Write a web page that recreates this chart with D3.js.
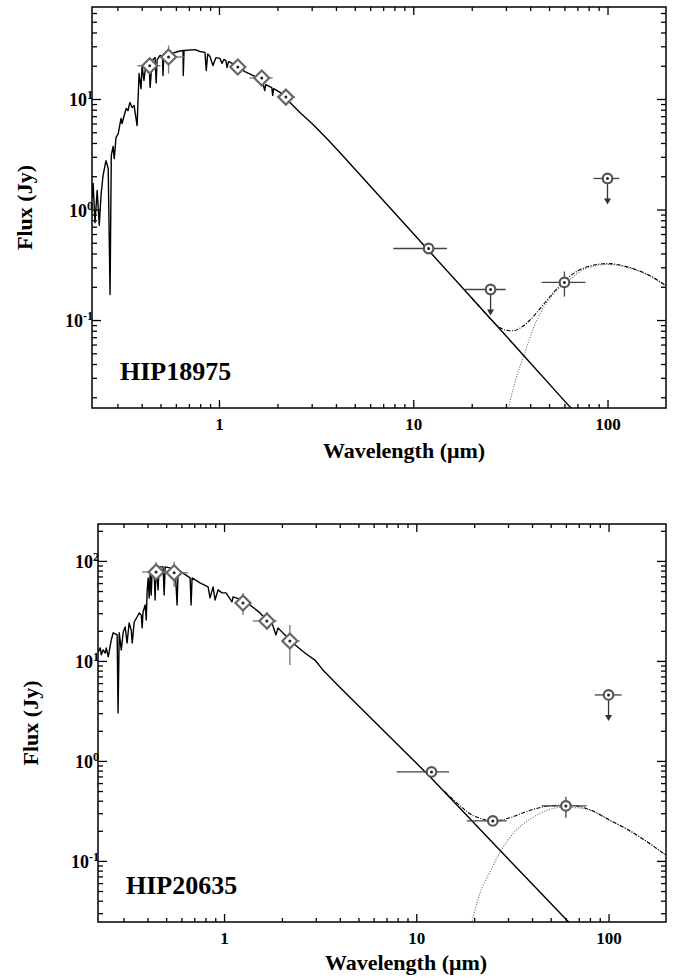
<!DOCTYPE html>
<html>
<head>
<meta charset="utf-8">
<script src="https://cdn.jsdelivr.net/npm/d3@7"></script>
<style>
body { margin: 0; background: #fff; }
svg text, svg tspan { font-family: "Liberation Serif", "Times New Roman", Times, serif; font-weight: bold; fill: #000; }
.xlab text { font-size: 17px; }
</style>
</head>
<body>
<svg width="673" height="977"></svg>
<script>
// ---- HIP18975 (top panel) ----
// stellar model spectrum [wavelength um, flux Jy]
const specA = [[0.222,1.26],[0.225,1.72],[0.230,0.76],[0.236,1.49],[0.242,0.72],[0.247,1.34],[0.253,2.03],
  [0.262,2.77],[0.269,2.35],[0.275,0.17],[0.279,3.08],[0.285,3.72],[0.289,2.89],[0.295,4.48],[0.303,4.87],
  [0.313,6.66],[0.317,6.00],[0.325,7.09],[0.333,8.20],[0.340,7.87],[0.348,9.29],[0.357,8.37],[0.366,8.73],
  [0.370,7.55],[0.379,5.75],[0.383,9.69],[0.388,17.0],[0.397,12.4],[0.402,20.1],[0.411,14.7],[0.421,21.0],
  [0.431,17.4],[0.436,22.3],[0.442,12.7],[0.453,22.3],[0.469,23.7],[0.475,14.0],[0.480,22.5],[0.497,24.8],
  [0.512,24.5],[0.515,16.3],[0.520,25.2],[0.573,25.8],[0.615,26.9],[0.653,27.5],[0.655,16.3],[0.661,27.5],
  [0.753,28.0],[0.798,26.9],[0.847,26.4],[0.860,18.1],[0.875,25.5],[0.899,24.3],[0.931,20.1],[0.965,23.7],
  [1.012,23.3],[1.036,21.0],[1.060,22.8],[1.086,22.3],[1.099,19.3],[1.12,21.8],[1.21,20.5],[1.36,17.7],
  [1.53,16.0],[1.68,14.1],[1.72,11.9],[1.74,13.5],[1.87,12.7],[1.89,10.8],[1.91,12.4],[2.06,11.5],
  [2.32,9.29],[2.61,7.55],[3.04,5.9],[3.63,4.3],[4.19,3.28],[12.0,0.426],[30,0.072],[61,0.018],[100,0.007]];
// star + dust total
const totalA = [[20,0.158],[22.5,0.125],[24.7,0.104],[27.5,0.087],[30,0.081],[32.5,0.080],[36,0.086],
  [39.7,0.099],[48.6,0.150],[58.7,0.218],[74.3,0.292],[100,0.324],[129.8,0.299],[164.4,0.253],[200,0.205]];
// dust blackbody
const dustA = [[29,0.0095],[31,0.0162],[33.5,0.028],[36.6,0.0449],[43.2,0.099],[54.7,0.185],[60.8,0.215],
  [75,0.285],[100,0.318],[130,0.295],[165,0.250],[200,0.202]];
// optical/near-IR photometry [lam, F, lamLo, lamHi, FLo, FHi]
const optA = [[0.44,20.0,0.38,0.50,17.0,23.5],[0.55,24.0,0.50,0.66,17.0,30.5],[1.25,19.5,1.17,1.33,16.5,22.5],
  [1.66,15.5,1.44,1.89,13.8,17.4],[2.21,10.4,1.99,2.46,9.8,11.0]];
// IRAS photometry [lam, F, lamLo, lamHi, FLo, FHi, upperLimit]
const irA = [[12,0.444,7.9,14.9,0.444,0.444,0],[25,0.189,18.4,29.9,0.189,0.189,1],
  [60,0.219,45.8,77,0.163,0.275,0],[100,1.91,84.7,115,1.91,1.91,1]];

// ---- HIP20635 (bottom panel) ----
const specB = [[0.2216,12.3],[0.227,13.5],[0.230,11.5],[0.235,12.9],[0.241,12.0],[0.244,13.5],[0.250,11.0],
  [0.259,16.2],[0.265,19.1],[0.278,18.2],[0.281,3.02],[0.285,19.1],[0.292,12.9],[0.299,19.5],[0.306,21.9],
  [0.313,15.1],[0.321,24.0],[0.329,20.4],[0.333,15.1],[0.341,24.5],[0.353,27.5],[0.362,30.2],[0.371,28.8],
  [0.375,21.4],[0.379,30.9],[0.389,36.3],[0.394,25.7],[0.398,49.0],[0.403,67.6],[0.408,42.7],[0.413,77.6],
  [0.418,45.7],[0.423,81.3],[0.433,81.3],[0.438,40.7],[0.443,87.1],[0.454,51.3],[0.459,87.1],[0.482,87.1],
  [0.488,45.7],[0.494,87.1],[0.524,85.1],[0.537,81.3],[0.557,81.3],[0.570,36.3],[0.577,81.3],[0.666,67.6],
  [0.674,36.3],[0.682,67.6],[0.750,60.3],[0.826,55.0],[0.846,42.7],[0.877,55.0],[0.898,40.7],[0.931,51.3],
  [0.976,47.9],[1.024,47.9],[1.100,38.9],[1.114,43.7],[1.240,40.7],[1.365,36.3],[1.538,30.2],[1.653,26.3],
  [1.693,21.4],[1.775,24.0],[1.862,18.2],[1.908,21.4],[2.075,18.2],[2.338,14.5],[2.634,12.0],[2.969,10.2],
  [3.267,8.13],[4.0,5.46],[11.75,0.70],[30,0.105],[62,0.0245],[100,0.0095]];
const totalB = [[14,0.50],[15.5,0.415],[17.2,0.345],[19.7,0.285],[21.4,0.268],[25,0.25],[30.6,0.27],
  [38.9,0.32],[49.4,0.355],[61,0.362],[79.7,0.326],[105,0.247],[124,0.21],[145,0.174],[198,0.115]];
const dustB = [[18.5,0.018],[19.4,0.0245],[21.4,0.047],[24.1,0.077],[27.8,0.13],[33.3,0.205],[38.9,0.26],
  [45,0.305],[57.7,0.345],[73.3,0.335],[105,0.245],[124,0.208],[145,0.174],[198,0.115]];
const optB = [[0.443,77.6,0.375,0.524,66,98],[0.550,76.0,0.494,0.650,55,98],[1.255,38.0,1.17,1.37,28.8,47.9],
  [1.67,25.1,1.41,1.88,20.4,30.9],[2.20,15.8,2.0,2.48,9.1,22.9]];
const irB = [[12,0.776,7.9,14.8,0.776,0.776,0],[25,0.251,18.3,29.5,0.225,0.28,0],
  [60,0.355,44.9,76.9,0.27,0.437,0],[100,4.57,84.7,117,4.57,4.57,1]];

const xMajor = [1, 10, 100];
const FONT = '"Liberation Serif", "Times New Roman", Times, serif';

let svg = d3.select("svg");

function minorTicks(dom){
    let out = [];
    for (let e = Math.floor(Math.log10(dom[0])); e <= Math.ceil(Math.log10(dom[1])); e++){
        for (let k = 2; k <= 9; k++){
            let v = k * Math.pow(10, e);
            if (v > dom[0] * 1.001 && v < dom[1] * 0.999) out.push(v);
        }
    }
    return out;
}

function drawPanel(p){
    let x = d3.scaleLog().domain(p.xDom).range([p.left, p.right]);
    let y = d3.scaleLog().domain(p.yDom).range([p.bottom, p.top]);
    let g = svg.append("g");

    let clipId = "clip" + p.name;
    g.append("clipPath").attr("id", clipId)
        .append("rect")
        .attr("x", p.left).attr("y", p.top)
        .attr("width", p.right - p.left).attr("height", p.bottom - p.top);

    let yMajor = p.yLabels;
    let xMinor = minorTicks(p.xDom);
    let yMinor = minorTicks(p.yDom);

    // axes, ticks pointing inward on all four sides
    let clean = a => a.call(s => s.select(".domain").remove());
    g.append("g").attr("class", "xlab").attr("transform", `translate(0,${p.bottom})`)
        .call(d3.axisBottom(x).tickValues(xMajor).tickSize(-8).tickPadding(10).tickFormat(d3.format("d")))
        .call(clean);
    g.append("g").attr("transform", `translate(0,${p.bottom})`)
        .call(d3.axisBottom(x).tickValues(xMinor).tickSize(-4).tickFormat(""))
        .call(clean);
    g.append("g").attr("transform", `translate(0,${p.top})`)
        .call(d3.axisTop(x).tickValues(xMajor).tickSize(-8).tickFormat(""))
        .call(clean);
    g.append("g").attr("transform", `translate(0,${p.top})`)
        .call(d3.axisTop(x).tickValues(xMinor).tickSize(-4).tickFormat(""))
        .call(clean);
    g.append("g").attr("transform", `translate(${p.left},0)`)
        .call(d3.axisLeft(y).tickValues(yMajor).tickSize(-9).tickFormat(""))
        .call(clean);
    g.append("g").attr("transform", `translate(${p.left},0)`)
        .call(d3.axisLeft(y).tickValues(yMinor).tickSize(-5).tickFormat(""))
        .call(clean);
    g.append("g").attr("transform", `translate(${p.right},0)`)
        .call(d3.axisRight(y).tickValues(yMajor).tickSize(-9).tickFormat(""))
        .call(clean);
    g.append("g").attr("transform", `translate(${p.right},0)`)
        .call(d3.axisRight(y).tickValues(yMinor).tickSize(-5).tickFormat(""))
        .call(clean);
    g.selectAll(".tick line").attr("stroke", "#000").attr("stroke-width", 1.3);
    g.selectAll(".xlab text").style("font-family", FONT).style("font-size", "17px");

    // y labels as 10^n
    let yl = g.selectAll("text.ylab").data(yMajor).join("text")
        .attr("class", "ylab")
        .attr("x", p.left + 1)
        .attr("y", d => y(d) + 7)
        .attr("text-anchor", "end")
        .style("font-family", FONT);
    yl.append("tspan").style("font-size", "18px").text("10");
    yl.append("tspan").style("font-size", "12px").attr("dy", -7)
        .text(d => String(Math.round(Math.log10(d))));

    // frame
    g.append("rect")
        .attr("x", p.left).attr("y", p.top)
        .attr("width", p.right - p.left).attr("height", p.bottom - p.top)
        .attr("fill", "none").attr("stroke", "#000").attr("stroke-width", 1.5);

    let plot = g.append("g").attr("clip-path", `url(#${clipId})`);

    let lineLin = d3.line().x(d => x(d[0])).y(d => y(d[1]));
    let lineSmooth = d3.line().x(d => x(d[0])).y(d => y(d[1])).curve(d3.curveMonotoneX);

    plot.append("path").datum(p.dust)
        .attr("d", lineSmooth)
        .attr("fill", "none").attr("stroke", "#666").attr("stroke-width", 1.1)
        .attr("stroke-dasharray", "1,1.6");
    plot.append("path").datum(p.total)
        .attr("d", lineSmooth)
        .attr("fill", "none").attr("stroke", "#000").attr("stroke-width", 1.1)
        .attr("stroke-dasharray", "4,1.5,1,1.5");
    plot.append("path").datum(p.spec)
        .attr("d", lineLin)
        .attr("fill", "none").attr("stroke", "#000").attr("stroke-width", 1.4)
        .attr("stroke-linejoin", "round");

    // error bars
    let bars = g.append("g");
    p.opt.concat(p.ir).forEach(d => {
        let col = d.length > 6 ? "#444" : "#777";
        bars.append("line")
            .attr("x1", x(d[2])).attr("x2", x(d[3]))
            .attr("y1", y(d[1])).attr("y2", y(d[1]))
            .attr("stroke", col).attr("stroke-width", 1.3);
        if (d[4] !== d[5]) {
            bars.append("line")
                .attr("x1", x(d[0])).attr("x2", x(d[0]))
                .attr("y1", y(d[4])).attr("y2", y(d[5]))
                .attr("stroke", col).attr("stroke-width", 1.3);
        }
    });

    // upper limit arrows
    let ul = p.ir.filter(d => d[6] === 1);
    g.selectAll("line.arr").data(ul).join("line")
        .attr("x1", d => x(d[0])).attr("x2", d => x(d[0]))
        .attr("y1", d => y(d[1])).attr("y2", d => y(d[1]) + 21)
        .attr("stroke", "#333").attr("stroke-width", 1.3);
    g.selectAll("path.arrhead").data(ul).join("path")
        .attr("d", d => {
            let cx = x(d[0]), cy = y(d[1]) + 20;
            return `M${cx - 3.5},${cy}L${cx + 3.5},${cy}L${cx},${cy + 6}Z`;
        })
        .attr("fill", "#333");

    // diamonds
    let dm = g.selectAll("g.dia").data(p.opt).join("g")
        .attr("transform", d => `translate(${x(d[0])},${y(d[1])})`);
    dm.append("path").attr("d", "M0,-7.5L7.5,0L0,7.5L-7.5,0Z")
        .attr("fill", "#fff").attr("stroke", "#666").attr("stroke-width", 2.2);
    dm.append("circle").attr("r", 1.5).attr("fill", "#222");

    // circles
    let cm = g.selectAll("g.circ").data(p.ir).join("g")
        .attr("transform", d => `translate(${x(d[0])},${y(d[1])})`);
    cm.append("circle").attr("r", 4.8)
        .attr("fill", "#fff").attr("stroke", "#555").attr("stroke-width", 2.2);
    cm.append("circle").attr("r", 1.5).attr("fill", "#222");

    // titles
    g.append("text")
        .attr("x", p.titleX).attr("y", p.bottom + p.titleDy)
        .attr("text-anchor", "middle")
        .style("font-family", FONT).style("font-size", "22px")
        .text("Wavelength (\u03bcm)");
    g.append("text")
        .attr("transform", `translate(${p.left - 60},${(p.top + p.bottom) / 2}) rotate(-90)`)
        .attr("text-anchor", "middle")
        .style("font-family", FONT).style("font-size", "22px")
        .text("Flux (Jy)");
    g.append("text")
        .attr("x", p.left + 28).attr("y", p.bottom - 28)
        .style("font-family", FONT).style("font-size", "26px")
        .text(p.name);
}

drawPanel({name: "HIP18975", spec: specA, total: totalA, dust: dustA, opt: optA, ir: irA,
    xDom: [0.222, 200], yDom: [0.016, 68], yLabels: [0.1, 1, 10],
    left: 92, right: 666, top: 7, bottom: 408, titleX: 404, titleDy: 50});
drawPanel({name: "HIP20635", spec: specB, total: totalB, dust: dustB, opt: optB, ir: irB,
    xDom: [0.221, 199], yDom: [0.0245, 234], yLabels: [0.1, 1, 10, 100],
    left: 98, right: 666, top: 524, bottom: 922, titleX: 406, titleDy: 48});
</script>
</body>
</html>
